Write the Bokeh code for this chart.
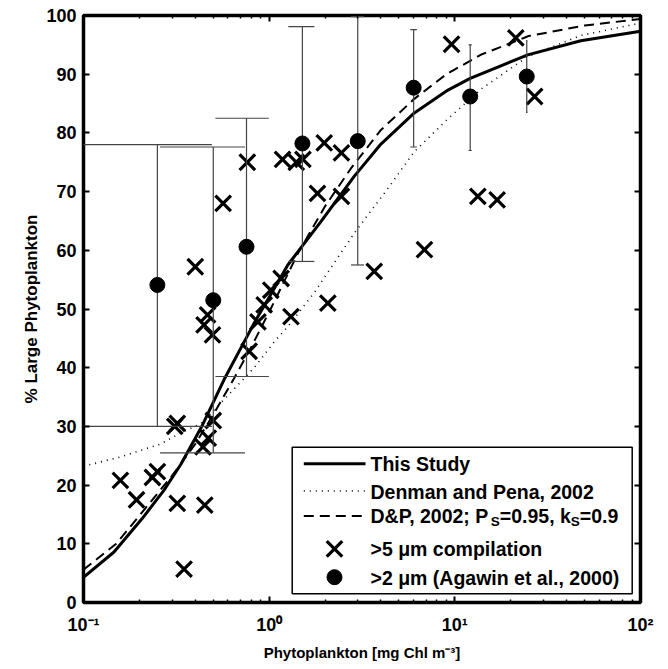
import numpy as np
from bokeh.plotting import figure
from bokeh.models import Range1d, LinearScale, LinearAxis, LogAxis, FixedTicker
from bokeh.core.properties import value
from bokeh.embed import file_html
from bokeh.resources import INLINE

# ---------------- data ----------------
# "This Study" model curve
study_x = [0.1, 0.146, 0.207, 0.271, 0.334, 0.362, 0.437, 0.505, 0.57, 0.83, 1.0, 1.26,
           1.9, 2.87, 4.0, 6.05, 9.18, 12.1, 24.7, 47.7, 100]
study_y = [4.3, 8.6, 14.3, 19.1, 23.5, 25.5, 30.2, 34.4, 37.9, 47.6, 52.0, 57.5,
           64.9, 72.6, 78.1, 83.4, 87.3, 89.3, 93.3, 95.7, 97.3]

# Denman and Pena, 2002 (dotted)
dp_x = [0.1, 0.158, 0.26, 0.33, 0.43, 0.7, 0.83, 1.07, 1.26, 1.75, 2.87, 4.35, 6.05,
        9.18, 13.9, 24.7, 47.7, 100]
dp_y = [23.2, 24.8, 27.0, 28.8, 30.5, 37.5, 40.0, 44.5, 47.0, 52.8, 62.9, 70.5, 76.8,
        82.4, 87.5, 93.0, 96.6, 98.7]

# D&P, 2002; Ps=0.95, ks=0.9 (dashed)
dpk_x = [0.1, 0.15, 0.2, 0.3, 0.4, 0.5, 0.65, 0.8, 1.0, 1.43, 2.0, 2.75, 4.0, 6.05,
         9.0, 14, 25, 50, 100]
dpk_y = [5.6, 10.0, 14.8, 21.6, 27.0, 32.0, 38.3, 43.5, 49.5, 59.5, 67.5, 73.9, 80.5,
         85.8, 90.0, 93.4, 96.5, 98.3, 99.4]

# >5 um compilation (crosses)
comp_x = [0.158, 0.193, 0.235, 0.25, 0.32, 0.348, 0.31, 0.32, 0.40, 0.44, 0.47, 0.45,
          0.446, 0.466, 0.495, 0.50, 0.565, 0.763, 0.78, 0.87, 0.94, 1.02, 1.16, 1.18,
          1.31, 1.40, 1.52, 1.82, 1.98, 2.07, 2.45, 2.45, 3.68, 6.86, 9.6, 13.3, 16.9,
          21.3, 26.9]
comp_y = [20.8, 17.5, 21.3, 22.3, 16.9, 5.7, 30.0, 30.5, 57.2, 26.5, 28.0, 16.6,
          47.3, 49.0, 45.6, 31.0, 68.0, 75.0, 42.8, 47.8, 50.7, 53.2, 55.2, 75.5,
          48.7, 75.0, 75.5, 69.7, 78.3, 51.0, 76.6, 69.2, 56.4, 60.1, 95.1, 69.2, 68.6,
          96.2, 86.2]

# >2 um (Agawin et al., 2000) with error bars
ag_x = [0.25, 0.50, 0.755, 1.51, 3.0, 6.0, 12.1, 24.4]
ag_y = [54.1, 51.5, 60.6, 78.2, 78.6, 87.7, 86.2, 89.6]
ag_lo = [30.0, 25.5, 38.5, 58.1, 57.5, 77.6, 77.0, 83.5]
ag_hi = [78.0, 77.6, 82.5, 98.1, 99.8, 97.6, 95.0, 95.7]

x_ticks = [0.1, 1, 10, 100]
x_tick_labels = ["10\u207b\u00b9", "10\u2070", "10\u00b9", "10\u00b2"]
y_ticks = [0, 10, 20, 30, 40, 50, 60, 70, 80, 90, 100]

# ---------------- figure ----------------
FONT = "Liberation Sans"
FW, FH = 557, 587  # frame size in px

p = figure(width=660, height=665, x_axis_type="log",
           x_range=Range1d(0.1, 100), y_range=Range1d(0, 100),
           output_backend="svg", toolbar_location=None,
           min_border_left=83, min_border_right=20, min_border_top=15, min_border_bottom=63)
p.xgrid.visible = False
p.ygrid.visible = False
p.outline_line_color = "black"
p.outline_line_width = 3.5
p.background_fill_color = "white"
p.border_fill_color = "white"

minor = [m * 10.0 ** e for e in (-1, 0, 1) for m in range(2, 10)]

def style_axis(ax, labels=True):
    ax.axis_line_color = None
    ax.major_tick_in = 6
    ax.major_tick_out = 0
    ax.minor_tick_in = 3
    ax.minor_tick_out = 0
    ax.major_tick_line_width = 2
    ax.minor_tick_line_width = 1.5
    ax.major_tick_line_color = "black"
    ax.minor_tick_line_color = "black"
    if labels:
        ax.major_label_text_font = FONT
        ax.major_label_text_font_style = "bold"
        ax.major_label_text_font_size = "18px"
        ax.major_label_text_color = "black"
    else:
        ax.major_label_text_font_size = "0px"
        ax.major_label_text_color = None
        ax.major_label_standoff = 0

xa = p.xaxis[0]
xa.ticker = FixedTicker(ticks=x_ticks, minor_ticks=minor)
xa.major_label_overrides = {float(t): s for t, s in zip(x_ticks, x_tick_labels)}
style_axis(xa)
xa.major_label_standoff = 12
xa.axis_label = "Phytoplankton [mg Chl m\u207b\u00b3]"
xa.axis_label_text_font = FONT
xa.axis_label_text_font_style = "bold"
xa.axis_label_text_font_size = "15px"
xa.axis_label_text_color = "black"
xa.axis_label_standoff = 6

ya = p.yaxis[0]
ya.ticker = FixedTicker(ticks=y_ticks, minor_ticks=[])
style_axis(ya)
ya.major_label_standoff = 7
ya.axis_label = "% Large Phytoplankton"
ya.axis_label_text_font = FONT
ya.axis_label_text_font_style = "bold"
ya.axis_label_text_font_size = "17px"
ya.axis_label_text_color = "black"
ya.axis_label_standoff = 2

top = LogAxis(ticker=FixedTicker(ticks=x_ticks, minor_ticks=minor))
style_axis(top, labels=False)
p.add_layout(top, "above")
right = LinearAxis(ticker=FixedTicker(ticks=y_ticks, minor_ticks=[]))
style_axis(right, labels=False)
p.add_layout(right, "right")

# ---------------- curves ----------------
LW_SOLID, LW_DOT, LW_DASH = 3, 1.6, 2
DOT, DASH = "1 5", "10 6"
p.line(study_x, study_y, line_color="black", line_width=LW_SOLID)
p.line(dp_x, dp_y, line_color="black", line_width=LW_DOT, line_dash=DOT)
p.line(dpk_x, dpk_y, line_color="black", line_width=LW_DASH, line_dash=DASH)

# ---------------- crosses ----------------
p.scatter(comp_x, comp_y, marker="x", size=22, line_width=3.2, line_color="black")

# ---------------- error bars + circles ----------------
ax_ = np.array(ag_x)
tee = (ax_.max() - ax_.min()) / 100.0
EB_COLOR = "#444444"
p.segment(x0=ag_x, y0=ag_lo, x1=ag_x, y1=ag_hi, line_color=EB_COLOR, line_width=1.2)
p.segment(x0=list(ax_ - tee), y0=ag_lo, x1=list(ax_ + tee), y1=ag_lo,
          line_color=EB_COLOR, line_width=1.2)
p.segment(x0=list(ax_ - tee), y0=ag_hi, x1=list(ax_ + tee), y1=ag_hi,
          line_color=EB_COLOR, line_width=1.2)
p.scatter(ag_x, ag_y, marker="circle", size=15, fill_color="black", line_color="black")

# ---------------- legend (drawn in frame pixel space) ----------------
p.extra_x_ranges = {"px": Range1d(0, FW)}
p.extra_y_ranges = {"px": Range1d(0, FH)}
p.extra_x_scales = {"px": LinearScale()}
px = dict(x_range_name="px", y_range_name="px")

box_l, box_r, box_b, box_t = 208.7, 548.7, 8.7, 155.3
p.quad(left=[box_l], right=[box_r], bottom=[box_b], top=[box_t],
       fill_color="white", line_color="black", line_width=1.5, **px)
g0, g1, gc = 220.3, 282.0, 251.0
rows = [138.7, 111.5, 86.5, 53.7, 25.3]
p.line([g0, g1], [rows[0], rows[0]], line_color="black", line_width=LW_SOLID, **px)
p.line([g0, g1], [rows[1], rows[1]], line_color="black", line_width=LW_DOT, line_dash=DOT, **px)
p.line([g0, g1], [rows[2], rows[2]], line_color="black", line_width=LW_DASH, line_dash=DASH, **px)
p.scatter([gc], [rows[3]], marker="x", size=22, line_width=3.2, line_color="black", **px)
p.scatter([gc], [rows[4]], marker="circle", size=15, fill_color="black", line_color="black", **px)

tx = 287.0
FS, FSS = 19.5, 13.5
txt = dict(text_font=value(FONT), text_font_style="bold", text_color="black",
           text_baseline="alphabetic", text_align="left", **px)
base = [138.5, 111.0, 86.5, 53.5, 25.0]
p.text(x=[tx, tx, tx, tx], y=[base[0], base[1], base[3], base[4]],
       text=["This Study", "Denman and Pena, 2002",
             ">5 \u03bcm compilation", ">2 \u03bcm (Agawin et al., 2000)"],
       text_font_size=f"{FS}px", **txt)
# row 3 with subscripts
em = FS
w1 = 6.169 * em
ws = 0.667 * FSS
w2 = 3.642 * em
p.text(x=[tx, tx + w1 + ws, tx + w1 + ws + w2 + ws], y=[base[2]] * 3,
       text=["D&P, 2002; P", "=0.95, k", "=0.9"], text_font_size=f"{FS}px", **txt)
p.text(x=[tx + w1, tx + w1 + ws + w2], y=[base[2] - 5] * 2,
       text=["S", "S"], text_font_size=f"{FSS}px", **txt)

open("out.html", "w").write(file_html(p, INLINE))
